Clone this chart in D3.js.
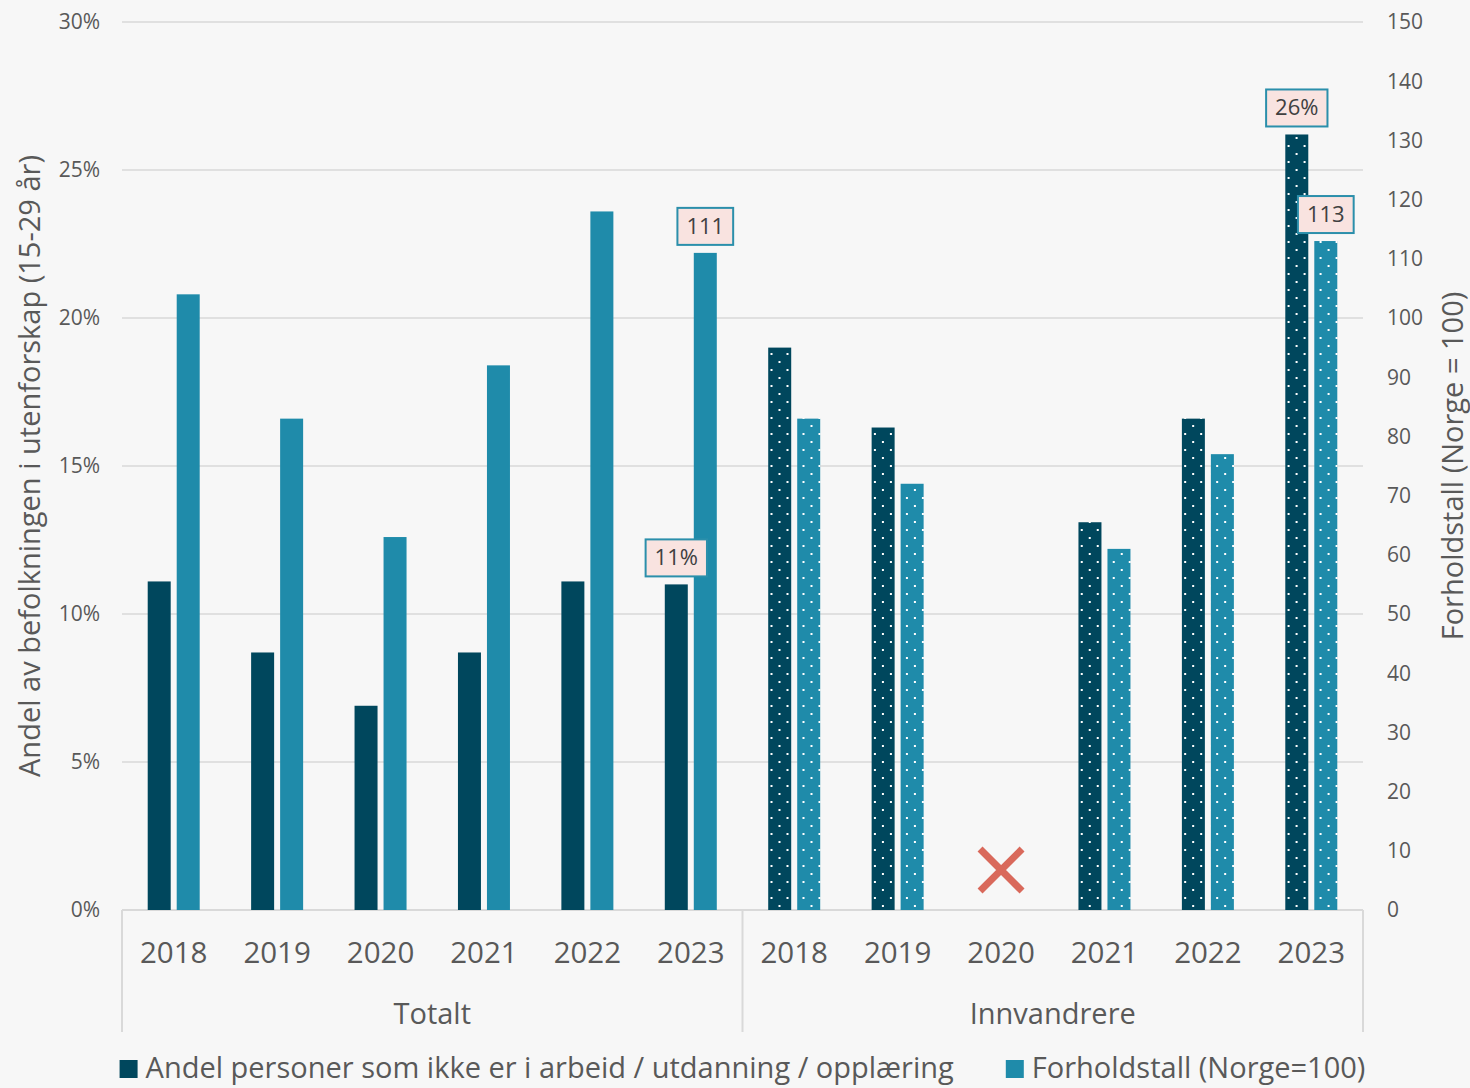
<!DOCTYPE html>
<html>
<head>
<meta charset="utf-8">
<script src="https://d3js.org/d3.v7.min.js"></script>
<style>
  body { margin: 0; background: #f7f7f7; }
  svg { display: block; font-family: "Open Sans", sans-serif; }
</style>
</head>
<body>
<script>
// data
var years = ["2018", "2019", "2020", "2021", "2022", "2023"];
var groups = ["Totalt", "Innvandrere"];
var andelTotalt = [11.1, 8.7, 6.9, 8.7, 11.1, 11.0];
var forholdTotalt = [104, 83, 63, 92, 118, 111];
var andelInnv = [19.0, 16.3, null, 13.1, 16.6, 26.2];
var forholdInnv = [83, 72, null, 61, 77, 113];
var leftTicks = [0, 5, 10, 15, 20, 25, 30];
var rightTicks = [0, 10, 20, 30, 40, 50, 60, 70, 80, 90, 100, 110, 120, 130, 140, 150];
var seriesNames = ["Andel personer som ikke er i arbeid / utdanning / opplæring", "Forholdstall (Norge=100)"];
// value labels in boxes
var boxLabels = [
  {group: "Totalt", year: "2023", series: "andel", text: "11%"},
  {group: "Totalt", year: "2023", series: "forhold", text: "111"},
  {group: "Innvandrere", year: "2023", series: "andel", text: "26%"},
  {group: "Innvandrere", year: "2023", series: "forhold", text: "113"}
];
// missing data marker
var missing = [{group: "Innvandrere", year: "2020", value: 1.35}];

var W = 1470, H = 1088;
var margin = {top: 22, right: 107, bottom: 178, left: 122};
var plotW = W - margin.left - margin.right,
    plotH = H - margin.top - margin.bottom;

var darkCol = "#00475d", lightCol = "#1f8baa", textCol = "#595959", gridCol = "#d9d9d9";

var cats = [];
groups.forEach(function (g, gi) {
  years.forEach(function (y, yi) {
    cats.push({
      key: g + "-" + y, group: g, year: y,
      andel: gi === 0 ? andelTotalt[yi] : andelInnv[yi],
      forhold: gi === 0 ? forholdTotalt[yi] : forholdInnv[yi],
      dotted: gi === 1
    });
  });
});

var svg = d3.select("body").append("svg")
  .attr("width", W).attr("height", H);

var defs = svg.append("defs");
[["dotDark", darkCol], ["dotLight", lightCol]].forEach(function (p) {
  var pat = defs.append("pattern")
    .attr("id", p[0])
    .attr("patternUnits", "userSpaceOnUse")
    .attr("width", 16).attr("height", 16)
    .attr("x", 4).attr("y", 3);
  pat.append("rect").attr("width", 16).attr("height", 16).attr("fill", p[1]);
  pat.append("rect").attr("x", 0).attr("y", 0).attr("width", 2).attr("height", 2).attr("fill", "#fff");
  pat.append("rect").attr("x", 8).attr("y", 8).attr("width", 2).attr("height", 2).attr("fill", "#fff");
});

var g = svg.append("g")
  .attr("transform", "translate(" + margin.left + "," + margin.top + ")");

var x = d3.scaleBand()
  .domain(cats.map(function (d) { return d.key; }))
  .range([0, plotW]);
var bw = x.bandwidth();
var x1 = d3.scaleBand()
  .domain(["andel", "forhold"])
  .range([bw / 2 - 26, bw / 2 + 26])
  .paddingInner(0.207);

var yL = d3.scaleLinear().domain([0, 30]).range([plotH, 0]);
var yR = d3.scaleLinear().domain([0, 150]).range([plotH, 0]);

// gridlines
g.append("g").selectAll("line")
  .data(leftTicks)
  .enter().append("line")
  .attr("x1", 0).attr("x2", plotW)
  .attr("y1", function (d) { return yL(d); })
  .attr("y2", function (d) { return yL(d); })
  .attr("stroke", gridCol)
  .attr("stroke-width", function (d) { return d === 0 ? 2 : 1.5; });

// left axis labels
g.append("g").selectAll("text")
  .data(leftTicks)
  .enter().append("text")
  .attr("x", -22)
  .attr("y", function (d) { return yL(d); })
  .attr("dy", "0.35em")
  .attr("text-anchor", "end")
  .attr("font-size", 21)
  .attr("fill", textCol)
  .text(function (d) { return d + "%"; });

// right axis labels
g.append("g").selectAll("text")
  .data(rightTicks)
  .enter().append("text")
  .attr("x", plotW + 24)
  .attr("y", function (d) { return yR(d); })
  .attr("dy", "0.35em")
  .attr("text-anchor", "start")
  .attr("font-size", 21)
  .attr("fill", textCol)
  .text(function (d) { return d; });

// axis titles
svg.append("text")
  .attr("transform", "translate(40," + (margin.top + plotH / 2) + ") rotate(-90)")
  .attr("text-anchor", "middle")
  .attr("font-size", 29)
  .attr("fill", textCol)
  .text("Andel av befolkningen i utenforskap (15-29 år)");

svg.append("text")
  .attr("transform", "translate(1463," + (margin.top + plotH / 2) + ") rotate(-90)")
  .attr("text-anchor", "middle")
  .attr("font-size", 29)
  .attr("fill", textCol)
  .text("Forholdstall (Norge = 100)");

// bars
var catG = g.append("g").selectAll("g")
  .data(cats)
  .enter().append("g")
  .attr("transform", function (d) { return "translate(" + x(d.key) + ",0)"; });

catG.filter(function (d) { return d.andel != null; })
  .append("rect")
  .attr("x", x1("andel"))
  .attr("width", x1.bandwidth())
  .attr("y", function (d) { return yL(d.andel); })
  .attr("height", function (d) { return plotH - yL(d.andel); })
  .attr("fill", function (d) { return d.dotted ? "url(#dotDark)" : darkCol; });

catG.filter(function (d) { return d.forhold != null; })
  .append("rect")
  .attr("x", x1("forhold"))
  .attr("width", x1.bandwidth())
  .attr("y", function (d) { return yR(d.forhold); })
  .attr("height", function (d) { return plotH - yR(d.forhold); })
  .attr("fill", function (d) { return d.dotted ? "url(#dotLight)" : lightCol; });

// missing marker (X)
var xs = 21;
missing.forEach(function (m) {
  var cx = x(m.group + "-" + m.year) + bw / 2, cy = yL(m.value);
  g.append("path")
    .attr("d", "M" + (cx - xs) + "," + (cy - xs) + "L" + (cx + xs) + "," + (cy + xs) +
               "M" + (cx + xs) + "," + (cy - xs) + "L" + (cx - xs) + "," + (cy + xs))
    .attr("stroke", "#d9695b")
    .attr("stroke-width", 7);
});

// boxed labels
boxLabels.forEach(function (b) {
  var c = cats.find(function (d) { return d.group === b.group && d.year === b.year; });
  var cx = x(c.key) + x1(b.series) + x1.bandwidth() / 2;
  var top = b.series === "andel" ? yL(c.andel) : yR(c.forhold);
  var lg = g.append("g");
  var t = lg.append("text")
    .attr("x", cx)
    .attr("y", top - 8 - 19)
    .attr("dy", "0.35em")
    .attr("text-anchor", "middle")
    .attr("font-size", 22)
    .attr("fill", "#404040")
    .text(b.text);
  var tw = t.node().getComputedTextLength();
  lg.insert("rect", "text")
    .attr("x", cx - tw / 2 - 9)
    .attr("y", top - 8 - 37)
    .attr("width", tw + 18)
    .attr("height", 37)
    .attr("fill", "#f9e3e0")
    .attr("stroke", "#2b8fab")
    .attr("stroke-width", 2);
});

// category labels
g.append("g").selectAll("text")
  .data(cats)
  .enter().append("text")
  .attr("x", function (d) { return x(d.key) + bw / 2; })
  .attr("y", plotH + 53)
  .attr("text-anchor", "middle")
  .attr("font-size", 29.5)
  .attr("fill", textCol)
  .text(function (d) { return d.year; });

// group labels and separators
var groupW = plotW / groups.length;
g.append("g").selectAll("text")
  .data(groups)
  .enter().append("text")
  .attr("x", function (d, i) { return groupW * i + groupW / 2; })
  .attr("y", plotH + 114)
  .attr("text-anchor", "middle")
  .attr("font-size", 29)
  .attr("fill", textCol)
  .text(function (d) { return d; });

g.append("g").selectAll("line")
  .data(d3.range(groups.length + 1))
  .enter().append("line")
  .attr("x1", function (d) { return groupW * d; })
  .attr("x2", function (d) { return groupW * d; })
  .attr("y1", plotH)
  .attr("y2", plotH + 122)
  .attr("stroke", gridCol)
  .attr("stroke-width", 2);

// legend
var leg = svg.append("g");
var legCols = [darkCol, lightCol];
var lx = 0;
seriesNames.forEach(function (s, i) {
  var it = leg.append("g").attr("transform", "translate(" + lx + ",0)");
  it.append("rect").attr("x", 0).attr("y", -18).attr("width", 18).attr("height", 18).attr("fill", legCols[i]);
  var t = it.append("text").attr("x", 26).attr("y", 0)
    .attr("font-size", 29).attr("fill", textCol).text(s);
  lx += 26 + t.node().getComputedTextLength() + 52;
});
var legW = lx - 52;
leg.attr("transform", "translate(" + (margin.left + plotW / 2 - legW / 2) + ",1078)");
</script>
</body>
</html>
